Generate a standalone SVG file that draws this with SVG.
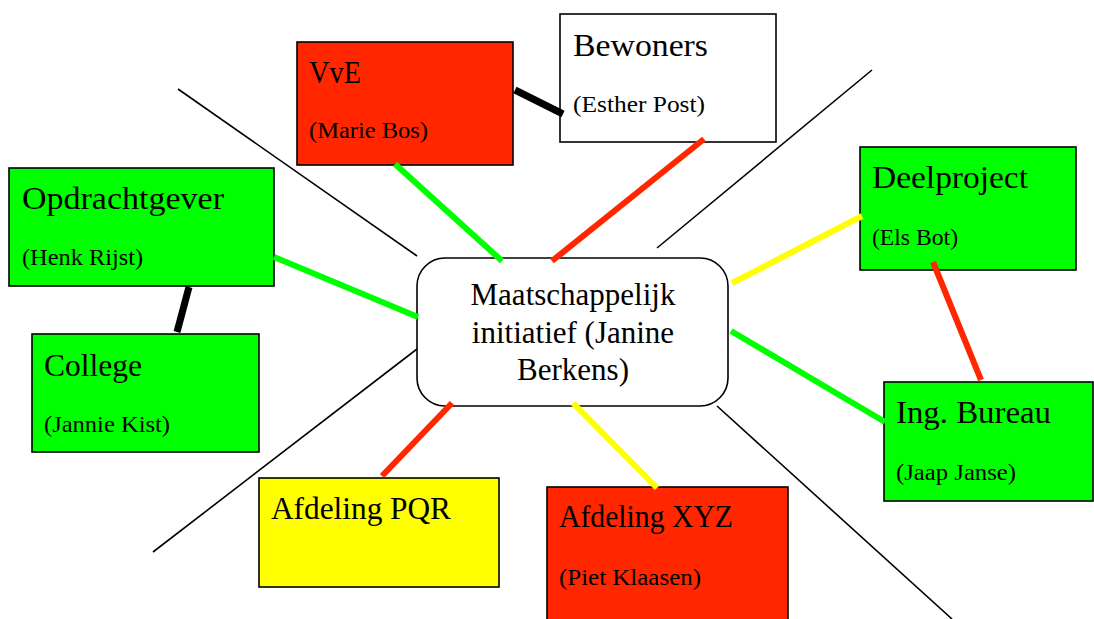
<svg xmlns="http://www.w3.org/2000/svg" width="1094" height="619" viewBox="0 0 1094 619">
<style>
.box{stroke:#000;stroke-width:1.6}
.red{fill:#FF2600}.green{fill:#00FF00}.yellow{fill:#FFFF00}.white{fill:#fff}
.t{font-family:"Liberation Serif","Times New Roman",serif;font-size:32px;fill:#000}
.s{font-family:"Liberation Serif","Times New Roman",serif;font-size:24px;fill:#000}
.c{font-family:"Liberation Serif","Times New Roman",serif;font-size:31px;fill:#000;text-anchor:middle}
.thin{stroke:#000;stroke-width:1.6;fill:none}
.con{stroke-width:6;fill:none}
.k{stroke:#000;stroke-width:7}
.cr{stroke:#FF2600}.cg{stroke:#00FF00}.cy{stroke:#FFFF00}
</style>
<rect width="1094" height="619" fill="#fff"/>
<g id="dividers">
<line class="thin" x1="178" y1="89" x2="417" y2="256"/>
<line class="thin" x1="872" y1="70" x2="657" y2="248"/>
<line class="thin" x1="417" y1="349" x2="153" y2="552"/>
<line class="thin" x1="717" y1="406" x2="952" y2="619"/>
</g>
<g id="vve">
<rect class="box red" x="297" y="42" width="216" height="123"/>
<text class="t" x="309" y="83" textLength="52" lengthAdjust="spacingAndGlyphs">VvE</text>
<text class="s" x="309" y="138" textLength="119" lengthAdjust="spacingAndGlyphs">(Marie Bos)</text>
</g>
<g id="bewoners">
<rect class="box white" x="560" y="14" width="216" height="128"/>
<text class="t" x="573" y="56" textLength="135" lengthAdjust="spacingAndGlyphs">Bewoners</text>
<text class="s" x="573" y="112" textLength="132" lengthAdjust="spacingAndGlyphs">(Esther Post)</text>
</g>
<g id="opdrachtgever">
<rect class="box green" x="9" y="168" width="265" height="118"/>
<text class="t" x="22" y="209" textLength="202" lengthAdjust="spacingAndGlyphs">Opdrachtgever</text>
<text class="s" x="22" y="265" textLength="121" lengthAdjust="spacingAndGlyphs">(Henk Rijst)</text>
</g>
<g id="college">
<rect class="box green" x="32" y="334" width="227" height="118"/>
<text class="t" x="44" y="376" textLength="98" lengthAdjust="spacingAndGlyphs">College</text>
<text class="s" x="44" y="432" textLength="126" lengthAdjust="spacingAndGlyphs">(Jannie Kist)</text>
</g>
<g id="deelproject">
<rect class="box green" x="860" y="147" width="216" height="123"/>
<text class="t" x="872" y="188" textLength="156" lengthAdjust="spacingAndGlyphs">Deelproject</text>
<text class="s" x="872" y="245" textLength="86" lengthAdjust="spacingAndGlyphs">(Els Bot)</text>
</g>
<g id="ingbureau">
<rect class="box green" x="884" y="382" width="209" height="119"/>
<text class="t" x="896" y="423" textLength="155" lengthAdjust="spacingAndGlyphs">Ing. Bureau</text>
<text class="s" x="896" y="480" textLength="120" lengthAdjust="spacingAndGlyphs">(Jaap Janse)</text>
</g>
<g id="pqr">
<rect class="box yellow" x="259" y="478" width="240" height="109"/>
<text class="t" x="271" y="519" textLength="180" lengthAdjust="spacingAndGlyphs">Afdeling PQR</text>
</g>
<g id="xyz">
<rect class="box red" x="547" y="487" width="241" height="140"/>
<text class="t" x="559" y="527" textLength="174" lengthAdjust="spacingAndGlyphs">Afdeling XYZ</text>
<text class="s" x="559" y="585" textLength="142" lengthAdjust="spacingAndGlyphs">(Piet Klaasen)</text>
</g>
<g id="center">
<rect class="box white" x="417" y="258" width="311" height="148" rx="28" ry="28"/>
<text class="c" x="573" y="305">Maatschappelijk</text>
<text class="c" x="573" y="343">initiatief (Janine</text>
<text class="c" x="573" y="380">Berkens)</text>
</g>
<g id="connectors">
<line class="k" x1="515" y1="90" x2="563" y2="114"/>
<line class="k" x1="189" y1="287" x2="177" y2="332"/>
<line class="con cg" x1="395" y1="164" x2="502" y2="261"/>
<line class="con cr" x1="704" y1="139" x2="552" y2="261"/>
<line class="con cg" x1="274" y1="257" x2="418" y2="317"/>
<line class="con cy" x1="862" y1="216" x2="732" y2="283"/>
<line class="con cg" x1="885" y1="422" x2="731" y2="331"/>
<line class="con cr" x1="933" y1="262" x2="981" y2="380"/>
<line class="con cr" x1="452" y1="403" x2="382" y2="476"/>
<line class="con cy" x1="573" y1="403" x2="657" y2="488"/>
</g>
</svg>
